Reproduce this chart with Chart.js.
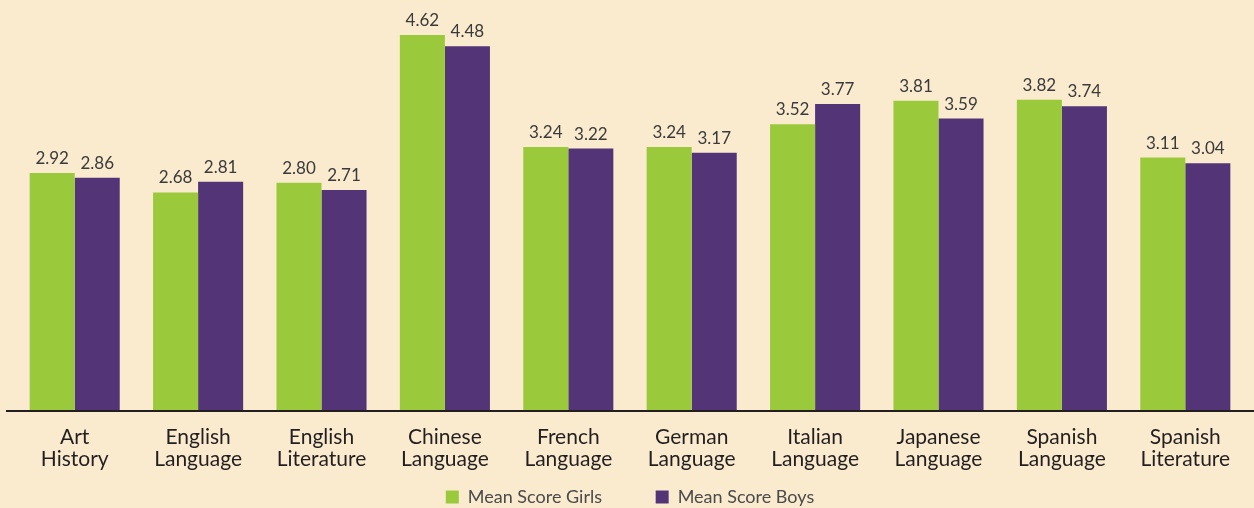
<!DOCTYPE html>
<html>
<head>
<meta charset="utf-8">
<script src="https://cdn.jsdelivr.net/npm/chart.js@4"></script>
<style>
  html, body { margin: 0; padding: 0; background: #FAEBCF; }
  #wrap { width: 1254px; height: 508px; }
</style>
</head>
<body>
<div id="wrap"><canvas id="myChart"></canvas></div>
<script>
const categories = [
  ['Art', 'History'], ['English', 'Language'], ['English', 'Literature'],
  ['Chinese', 'Language'], ['French', 'Language'], ['German', 'Language'],
  ['Italian', 'Language'], ['Japanese', 'Language'], ['Spanish', 'Language'],
  ['Spanish', 'Literature']
];
const girls = [2.92, 2.68, 2.80, 4.62, 3.24, 3.24, 3.52, 3.81, 3.82, 3.11];
const boys = [2.86, 2.81, 2.71, 4.48, 3.22, 3.17, 3.77, 3.59, 3.74, 3.04];

const ctx = document.getElementById('myChart').getContext('2d');

// value labels above each bar
const valueLabels = {
  id: 'valueLabels',
  afterDatasetsDraw(chart) {
    const c = chart.ctx;
    c.save();
    c.font = '17px Lato';
    c.fillStyle = '#3a3a3a';
    c.textAlign = 'center';
    c.textBaseline = 'alphabetic';
    chart.data.datasets.forEach((ds, i) => {
      chart.getDatasetMeta(i).data.forEach((bar, j) => {
        c.fillText(ds.data[j].toFixed(2), bar.x, bar.y - 9);
      });
    });
    c.restore();
  }
};

// baseline spanning the full width
const baseline = {
  id: 'baseline',
  afterDatasetsDraw(chart) {
    const c = chart.ctx;
    const y = chart.scales.y.getPixelForValue(0);
    c.save();
    c.strokeStyle = '#231F20';
    c.lineWidth = 2;
    c.beginPath();
    c.moveTo(6, y + 1);
    c.lineTo(chart.width, y + 1);
    c.stroke();
    c.restore();
  }
};

const myChart = new Chart(ctx, {
  type: 'bar',
  data: {
    labels: categories,
    datasets: [
      { label: 'Mean Score Girls', data: girls, backgroundColor: '#9BC93C' },
      { label: 'Mean Score Boys', data: boys, backgroundColor: '#533476' }
    ]
  },
  options: {
    responsive: true,
    maintainAspectRatio: false,
    animation: false,
    layout: { padding: { left: 13, right: 7, top: 0, bottom: -8 } },
    datasets: { bar: { categoryPercentage: 0.73, barPercentage: 1 } },
    plugins: {
      legend: {
        position: 'bottom',
        labels: {
          font: { family: 'Lato', size: 18 },
          color: '#4a4a4a',
          boxWidth: 13,
          boxHeight: 13,
          padding: 3,
          generateLabels(chart) {
            const items = Chart.defaults.plugins.legend.labels.generateLabels(chart);
            // widen the gap between the two entries
            items[0].text = items[0].text + '           ';
            return items;
          }
        }
      },
      tooltip: { enabled: false }
    },
    scales: {
      x: {
        grid: { display: false, drawTicks: false },
        border: { display: false },
        ticks: {
          font: { family: 'Lato', size: 21, lineHeight: '22px' },
          color: '#231F20',
          padding: 16,
          maxRotation: 0
        },
        afterFit(scale) { scale.height = 75; }
      },
      y: {
        display: false,
        min: 0,
        max: 5.05
      }
    }
  },
  plugins: [valueLabels, baseline]
});
</script>
</body>
</html>
